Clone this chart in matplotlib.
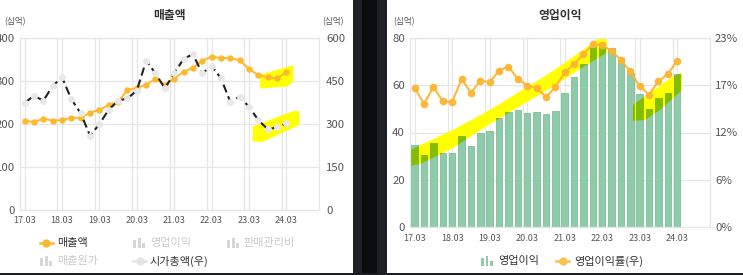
import matplotlib
matplotlib.use('Agg')
import matplotlib.pyplot as plt
from matplotlib.patches import Polygon, Rectangle
from matplotlib.lines import Line2D
import numpy as np

plt.rcParams['font.family'] = ['Noto Sans CJK KR', 'DejaVu Sans']

# ---------------- data ----------------
quarters = ["17.03", "17.06", "17.09", "17.12", "18.03", "18.06", "18.09", "18.12",
            "19.03", "19.06", "19.09", "19.12", "20.03", "20.06", "20.09", "20.12",
            "21.03", "21.06", "21.09", "21.12", "22.03", "22.06", "22.09", "22.12",
            "23.03", "23.06", "23.09", "23.12", "24.03"]
n_slots = 32  # axis has room for 32 quarters (up to 24.12)

sales = [207, 205, 212, 208, 209, 215, 214, 226, 233, 244, 252, 278, 284, 291,
         305, 291, 305, 321, 330, 347, 356, 353, 353, 348, 328, 313, 308, 306, 320]
market_cap = [374, 398, 381, 433, 462, 386, 337, 259, 300, 350, 381, 389, 416, 520,
              476, 424, 476, 526, 543, 476, 502, 459, 378, 395, 360, 314, 282, 288, 302]

op_profit = [34.7, 30.5, 35.4, 31.2, 31.2, 38.5, 34.3, 39.9, 40.8, 46.0, 48.8, 49.5,
             48.4, 48.8, 47.7, 49.2, 56.8, 63.3, 68.9, 76.2, 77.9, 75.5, 71.3, 65.2,
             56.1, 49.9, 54.4, 56.8, 64.7]
op_margin = [16.9, 15.0, 17.0, 15.3, 15.2, 18.0, 16.3, 17.8, 17.6, 19.0, 19.5, 18.0,
             17.2, 16.9, 15.8, 17.0, 18.8, 19.8, 21.0, 22.2, 22.1, 21.4, 20.3, 18.9,
             17.1, 16.1, 17.7, 18.6, 20.2]

left_ticks_l = [0, 100, 200, 300, 400]
left_ticks_r = [0, 150, 300, 450, 600]
right_ticks_l = [0, 20, 40, 60, 80]
right_ticks_r = [0, 5.75, 11.5, 17.25, 23]
right_ticklabels_r = ["0%", "6%", "12%", "17%", "23%"]

# highlighter marks (data coordinates of each panel's left axis)
hl_left_a = [(25.2, 314), (28.2, 333), (28.75, 336), (28.75, 298), (28.1, 287), (25.2, 282)]
hl_left_b = [(24.4, 194), (28.75, 230), (29.4, 230), (29.4, 198), (25.5, 159), (24.4, 159)]
hl_right_a = [(-0.5, 32.6), (4.09, 41.1), (8.03, 49.5), (14.43, 65.1), (19.02, 77.8),
              (19.55, 79.9), (20.51, 80.3), (20.51, 73.7), (17.95, 67.6), (14.43, 58.6),
              (8.03, 43.6), (4.09, 33.5), (0.57, 26.7), (-0.5, 25.9)]
hl_right_b = [(23.28, 51.6), (27.44, 63.4), (28.51, 65.1), (28.51, 57.9), (26.17, 49.5),
              (24.57, 45.3), (23.28, 44.9)]

# ---------------- styles ----------------
W, H = 743, 275
ORANGE = '#FDB92E'
GRID = '#e6e6e6'
TICK = '#555555'
DARK = '#333333'
LIGHT = '#c9c9c9'
BAR = '#8FCBA9'
BAR_EDGE = '#78BF99'
OLIVE = '#82BD00'
YELLOW = '#FFFF00'


def fx(x):
    return x / W


def fy(y):
    return 1 - y / H


fig = plt.figure(figsize=(W / 100, H / 100), dpi=100)
fig.patch.set_facecolor('white')

x = np.arange(len(quarters))
major = list(range(0, len(quarters), 4))
minor = [m + 3.5 for m in major[:-1]]


def style_axes(ax, yticks, pad_x, pad_y):
    ax.set_xlim(-0.5, n_slots - 0.5)
    ax.set_xticks(major)
    ax.set_xticklabels([quarters[i] for i in major])
    ax.set_xticks(minor, minor=True)
    ax.set_yticks(yticks)
    ax.set_ylim(yticks[0], yticks[-1])
    ax.grid(True, which='both', axis='x', color=GRID, lw=0.9)
    ax.grid(True, which='major', axis='y', color=GRID, lw=0.9)
    ax.set_axisbelow(True)
    for s in ax.spines.values():
        s.set_color(GRID)
        s.set_linewidth(0.9)
    ax.tick_params(which='both', length=0)
    ax.tick_params(axis='x', labelsize=6.5, labelcolor=TICK, pad=pad_x)
    ax.tick_params(axis='y', labelsize=8.2, labelcolor=TICK, pad=pad_y)


# ---------------- left panel ----------------
ax1 = fig.add_axes([fx(20), fy(210.3), fx(319) - fx(20), fy(37.7) - fy(210.3)])
style_axes(ax1, left_ticks_l, 4, 3.6)
ax1.add_patch(Polygon(hl_left_a, closed=True, color=YELLOW, lw=0, zorder=1))
ax1.add_patch(Polygon(hl_left_b, closed=True, color=YELLOW, lw=0, zorder=1))
ax1.plot(x, sales, color=ORANGE, lw=1.4, marker='o', ms=3.6, mfc=ORANGE, mec=ORANGE, zorder=3)

ax1r = ax1.twinx()
ax1r.set_ylim(left_ticks_r[0], left_ticks_r[-1])
ax1r.set_yticks(left_ticks_r)
ax1r.tick_params(length=0, labelsize=8.2, labelcolor=TICK, pad=5)
for s in ax1r.spines.values():
    s.set_visible(False)
ax1r.plot(x, market_cap, color='#222222', lw=1.5, ls=(0, (4, 2)), marker='o', ms=4,
          mfc='#e8e8e8', mec='#e8e8e8', zorder=3)

fig.text(fx(170), fy(16), '매출액', ha='center', va='center', fontsize=8.5,
         fontweight='bold', color=DARK)
fig.text(fx(4), fy(21.5), '(십억)', ha='left', va='center', fontsize=6.2, color=TICK)
fig.text(fx(322), fy(21.5), '(십억)', ha='left', va='center', fontsize=6.2, color=TICK)

# ---------------- right panel ----------------
ax2 = fig.add_axes([fx(410), fy(227.3), fx(710) - fx(410), fy(37.7) - fy(227.3)])
style_axes(ax2, right_ticks_l, 4.5, 3.6)
pa = Polygon(hl_right_a, closed=True, color=YELLOW, lw=0, zorder=1)
pb = Polygon(hl_right_b, closed=True, color=YELLOW, lw=0, zorder=1)
ax2.add_patch(pa)
ax2.add_patch(pb)
ax2.bar(x, op_profit, width=0.7, color=BAR, edgecolor=BAR_EDGE, lw=0.6, zorder=2)
for poly in (pa, pb):
    bars = ax2.bar(x, op_profit, width=0.7, color=OLIVE, edgecolor=OLIVE, lw=0.6, zorder=2.1)
    for b in bars:
        b.set_clip_path(poly)

ax2r = ax2.twinx()
ax2r.set_ylim(right_ticks_r[0], right_ticks_r[-1])
ax2r.set_yticks(right_ticks_r)
ax2r.set_yticklabels(right_ticklabels_r)
ax2r.tick_params(length=0, labelsize=8.2, labelcolor=TICK, pad=3.6)
for s in ax2r.spines.values():
    s.set_visible(False)
ax2r.plot(x, op_margin, color='#FBB634', lw=1.5, marker='o', ms=4.5, mfc='#FBB634',
          mec='#FBB634', alpha=0.95, zorder=3)

fig.text(fx(560), fy(16), '영업이익', ha='center', va='center', fontsize=8.5,
         fontweight='bold', color=DARK)
fig.text(fx(393), fy(21.5), '(십억)', ha='left', va='center', fontsize=6.2, color=TICK)

# ---------------- legends ----------------
def line_icon(x0, y, color):
    fig.add_artist(Line2D([fx(x0), fx(x0 + 13)], [fy(y), fy(y)], color=color, lw=1.8,
                          transform=fig.transFigure))
    fig.add_artist(Line2D([fx(x0 + 6.5)], [fy(y)], color=color, marker='o', ms=5,
                          transform=fig.transFigure))


def bar_icon(x0, y, color):
    for dx, h in ((0, 8), (4.5, 10.5), (9, 5)):
        fig.add_artist(Rectangle((fx(x0 + dx), fy(y + 5)), fx(3), h / H, color=color,
                                 lw=0, transform=fig.transFigure))


def legend_text(x0, y, s, color):
    fig.text(fx(x0), fy(y), s, ha='left', va='center', fontsize=8, color=color)


line_icon(40, 243, ORANGE)
legend_text(57, 243, '매출액', DARK)
bar_icon(133, 243, '#d6d6d6')
legend_text(150, 243, '영업이익', LIGHT)
bar_icon(227, 243, '#d6d6d6')
legend_text(243, 243, '판매관리비', LIGHT)
bar_icon(40, 261, '#d6d6d6')
legend_text(57, 261, '매출원가', LIGHT)
line_icon(133, 261, '#e3e3e3')
legend_text(150, 261, '시가총액(우)', DARK)

bar_icon(481, 261, BAR)
legend_text(498, 261, '영업이익', DARK)
line_icon(556, 261, '#FBC050')
legend_text(574, 261, '영업이익률(우)', DARK)

# ---------------- screenshot frame ----------------
fig.add_artist(Rectangle((fx(352.7), 0), fx(386.7) - fx(352.7), 1, color='#1e2126',
                         lw=0, transform=fig.transFigure, zorder=10))
fig.add_artist(Rectangle((fx(361.7), 0), fx(376.7) - fx(361.7), 1, color='#0b0c0e',
                         lw=0, transform=fig.transFigure, zorder=10))
fig.add_artist(Rectangle((0, 0), 1, 2.5 / H, color='#1c1d20', lw=0,
                         transform=fig.transFigure, zorder=10))

fig.savefig('out.png', dpi=100, facecolor='white')
